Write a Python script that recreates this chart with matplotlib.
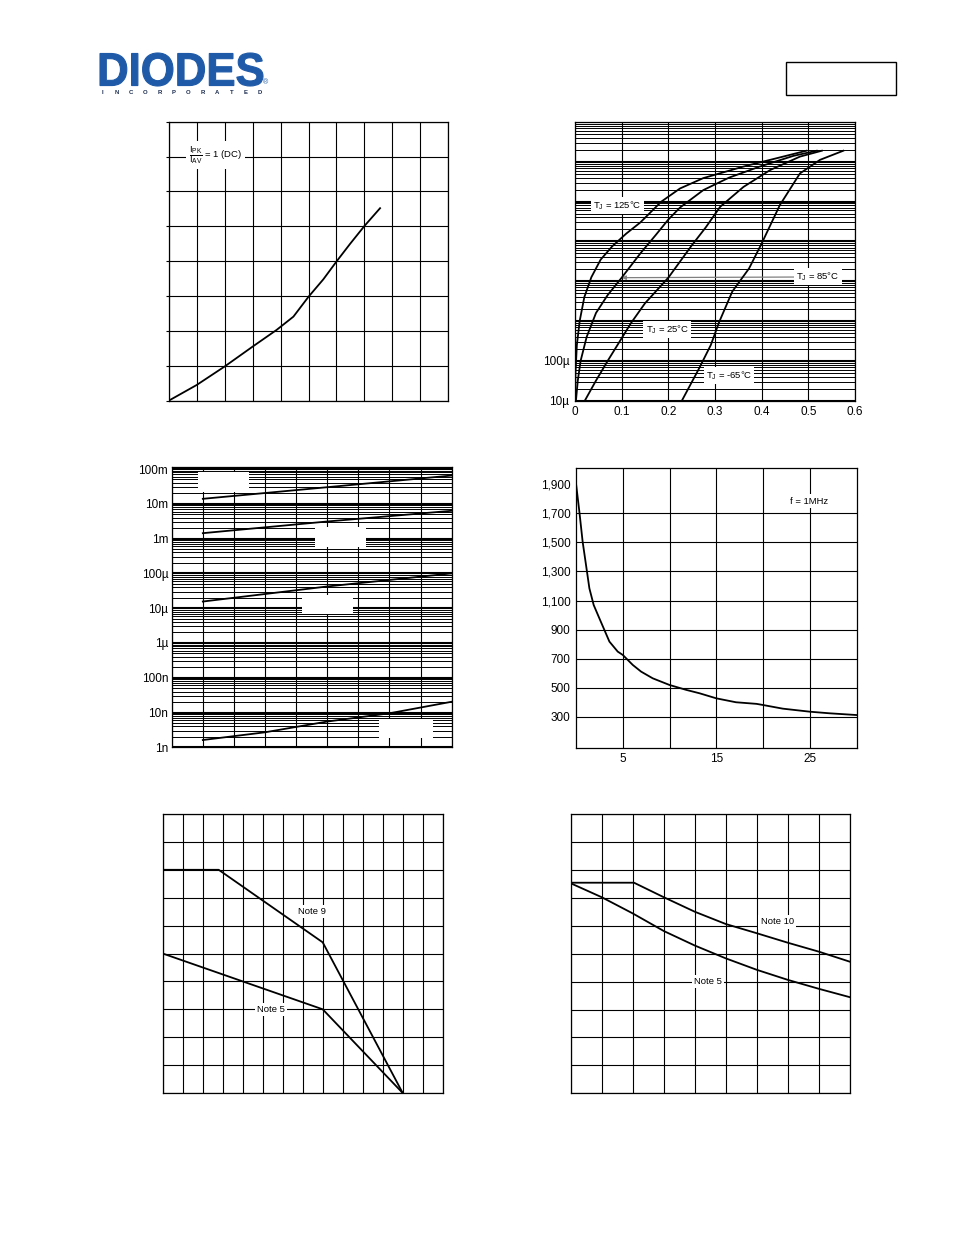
import numpy as np
import matplotlib
matplotlib.use('Agg')
import matplotlib.pyplot as plt
from matplotlib.ticker import LogLocator, FuncFormatter, NullFormatter, MultipleLocator, FixedLocator
from matplotlib.patches import Rectangle, PathPatch
from matplotlib.textpath import TextPath
from matplotlib.path import Path
from matplotlib.font_manager import FontProperties

plt.rcParams['font.family'] = ['Liberation Sans', 'DejaVu Sans']
plt.rcParams['mathtext.fontset'] = 'custom'
plt.rcParams['mathtext.rm'] = 'Liberation Sans'
plt.rcParams['mathtext.it'] = 'Liberation Sans:italic'
plt.rcParams['mathtext.bf'] = 'Liberation Sans:bold'

# ---------------- data ----------------
# Chart 1: power dissipation vs average current (unlabelled axes)
pd_x = [0, 1, 2, 3, 3.86, 4.46, 5, 5.53, 6, 6.48, 7, 7.56]
pd_y = [0, 0.45, 0.98, 1.55, 2.03, 2.41, 2.98, 3.48, 3.99, 4.49, 5.01, 5.52]

# Chart 2: forward characteristics (V, A)
t125_v = [0, 0.001, 0.004, 0.01, 0.02, 0.035, 0.055, 0.08, 0.11, 0.14, 0.185, 0.225, 0.275, 0.361, 0.432, 0.496]
t125_i = [1.0e-5, 5.0e-5, 2.5e-4, 1.0e-3, 4.0e-3, 1.26e-2, 3.5e-2, 7.6e-2, 0.158, 0.30, 1.0, 2.14, 3.9, 7.6, 12.3, 19.0]
t85_v = [0.002, 0.006, 0.012, 0.025, 0.045, 0.07, 0.1, 0.14, 0.173, 0.2, 0.225, 0.275, 0.33, 0.396, 0.468, 0.518]
t85_i = [1.0e-5, 3.2e-5, 1.0e-4, 4.0e-4, 1.6e-3, 4.5e-3, 1.23e-2, 5.0e-2, 0.145, 0.355, 0.71, 1.95, 4.0, 7.6, 14.1, 19.0]
t25_v = [0.021, 0.045, 0.07, 0.091, 0.12, 0.15, 0.2, 0.25, 0.28, 0.311, 0.361, 0.418, 0.482, 0.529]
t25_i = [1.0e-5, 3.2e-5, 1.0e-4, 2.5e-4, 8.9e-4, 2.8e-3, 1.23e-2, 7.9e-2, 0.224, 0.74, 2.34, 6.2, 13.5, 19.0]
tm65_v = [0.229, 0.266, 0.291, 0.309, 0.337, 0.373, 0.4, 0.439, 0.482, 0.525, 0.575]
tm65_i = [1.0e-5, 6.5e-5, 2.5e-4, 9.5e-4, 5.5e-3, 2.1e-2, 8.9e-2, 0.82, 5.1, 11.2, 19.0]
fwd_xticks = [0, 0.1, 0.2, 0.3, 0.4, 0.5, 0.6]
fwd_xlabels = ['0', '0.1', '0.2', '0.3', '0.4', '0.5', '0.6']
fwd_ylabels = {-5: '10\u00b5', -4: '100\u00b5'}

# Chart 3: reverse leakage (4 curves)
leak_x = [5, 25, 45]
leak1 = [1.39e-2, 3.0e-2, 6.5e-2]
leak2 = [1.43e-3, 3.1e-3, 6.3e-3]
leak3 = [1.55e-5, 4.2e-5, 1.0e-4]
leak4_x = [5, 15, 25, 35, 45]
leak4 = [1.62e-9, 2.7e-9, 5.5e-9, 9.5e-9, 2.04e-8]
leak_ylabels = {-9: '1n', -8: '10n', -7: '100n', -6: '1\u00b5', -5: '10\u00b5',
                -4: '100\u00b5', -3: '1m', -2: '10m', -1: '100m'}

# Chart 4: capacitance vs reverse voltage
cap_v = [0, 0.36, 0.71, 1.07, 1.43, 1.89, 2.5, 3.57, 4.46, 5, 6.07, 6.96, 8.2, 10,
         11.8, 13.2, 15, 17.1, 19.3, 20, 22.1, 25, 27.1, 30]
cap_pf = [1907, 1712, 1505, 1345, 1184, 1069, 977, 817, 748, 725, 656, 610, 564, 518,
          484, 461, 426, 399, 388, 380, 355, 334, 323, 311]
cap_yticks = [300, 500, 700, 900, 1100, 1300, 1500, 1700, 1900]
cap_ylabels = ['300', '500', '700', '900', '1,100', '1,300', '1,500', '1,700', '1,900']
cap_xticks = [5, 10, 15, 20, 25]
cap_xlabels = ['5', '', '15', '', '25']

# Chart 5: derating
n9_x = [0, 28, 80, 120]
n9_y = [80, 80, 54, 0]
n5_x = [0, 80, 120]
n5_y = [50, 30, 0]

# Chart 6: derating
n10_x = [0, 20.4, 30, 40, 50, 60, 70, 80, 90]
n10_y = [75.4, 75.4, 70.2, 65.0, 60.6, 57.3, 53.9, 50.7, 47.1]
n5b_x = [0, 10, 20, 30, 40, 50, 60, 70, 80, 90]
n5b_y = [75.2, 70.2, 64.4, 58.1, 52.9, 48.3, 44.2, 40.6, 37.4, 34.4]

# ---------------- figure ----------------
W, H = 954, 1235
fig = plt.figure(figsize=(W / 100, H / 100), dpi=100)
fig.patch.set_facecolor('white')


def add_ax(left, top, right, bottom):
    ax = fig.add_axes([left / W, 1 - bottom / H, (right - left) / W, (bottom - top) / H])
    for s in ax.spines.values():
        s.set_linewidth(0.9)
        s.set_color('black')
    ax.tick_params(which='both', length=0, labelsize=8.5, colors='black')
    return ax


GRID = dict(color='black', linewidth=0.8)
CURVE = dict(color='black', linewidth=1.3, zorder=2.5)
LBL = dict(fontsize=6.8, ha='center', va='center', zorder=1.9,
           bbox=dict(facecolor='white', edgecolor='none', pad=1.6))

# Chart 1
ax1 = add_ax(168.7, 121.7, 448.3, 400.7)
ax1.set_xlim(0, 10)
ax1.set_ylim(0, 8)
ax1.xaxis.set_major_locator(MultipleLocator(1))
ax1.yaxis.set_major_locator(MultipleLocator(1))
ax1.set_xticklabels([])
ax1.set_yticklabels([])
ax1.tick_params(axis='y', left=True, length=2.5, width=0.8, direction='out')
ax1.grid(True, **GRID)
ax1.plot(pd_x, pd_y, **CURVE)
ax1.text(0.167, 0.881, r'$\dfrac{\mathregular{I_{PK}}}{\mathregular{I_{AV}}}$ = 1 (DC)', transform=ax1.transAxes,
         **{**LBL, 'bbox': dict(facecolor='white', edgecolor='none', pad=2.0)})

# Chart 2
ax2 = add_ax(575, 122, 855, 400.7)
ax2.set_yscale('log')
ax2.set_xlim(0, 0.6)
ax2.set_ylim(1e-5, 1e2)
ax2.xaxis.set_major_locator(FixedLocator(fwd_xticks))
ax2.set_xticklabels(fwd_xlabels)
ax2.yaxis.set_major_locator(LogLocator(base=10, numticks=20))
ax2.yaxis.set_minor_locator(LogLocator(base=10, subs=np.arange(2, 10), numticks=200))
ax2.yaxis.set_major_formatter(FuncFormatter(lambda v, p: fwd_ylabels.get(int(round(np.log10(v))), '')))
ax2.yaxis.set_minor_formatter(NullFormatter())
ax2.tick_params(axis='x', pad=4)
ax2.tick_params(axis='y', pad=4)
ax2.grid(True, which='major', axis='y', color='black', linewidth=1.5)
ax2.grid(True, which='minor', axis='y', color='black', linewidth=0.7)
ax2.grid(True, which='major', axis='x', **GRID)
ax2.plot(t125_v, t125_i, **CURVE)
ax2.plot(t85_v, t85_i, **CURVE)
ax2.plot(t25_v, t25_i, **CURVE)
ax2.plot(tm65_v, tm65_i, **CURVE)
ax2.text(0.152, 0.699, r'T$_\mathregular{J}$ = 125°C', transform=ax2.transAxes, **LBL)
ax2.text(0.329, 0.254, r'T$_\mathregular{J}$ = 25°C', transform=ax2.transAxes, **LBL)
ax2.text(0.55, 0.089, r'T$_\mathregular{J}$ = -65°C', transform=ax2.transAxes, **LBL)
ax2.annotate(r'T$_\mathregular{J}$ = 85°C', xy=(t85_v[6], t85_i[6]), xycoords='data',
             xytext=(0.868, 0.444), textcoords='axes fraction',
             arrowprops=dict(arrowstyle='-|>', color='#808080', lw=0.9, mutation_scale=6,
                             shrinkA=0, shrinkB=0),
             **LBL)

# Chart 3
ax3 = add_ax(171.7, 467.3, 451.7, 747.3)
ax3.set_yscale('log')
ax3.set_xlim(0, 45)
ax3.set_ylim(1e-9, 0.112)
ax3.xaxis.set_major_locator(MultipleLocator(5))
ax3.set_xticklabels([])
ax3.yaxis.set_major_locator(LogLocator(base=10, numticks=20))
ax3.yaxis.set_minor_locator(LogLocator(base=10, subs=np.arange(2, 10), numticks=200))
ax3.yaxis.set_major_formatter(FuncFormatter(lambda v, p: leak_ylabels.get(int(round(np.log10(v))), '')))
ax3.yaxis.set_minor_formatter(NullFormatter())
ax3.tick_params(axis='y', pad=2.5)
ax3.grid(True, which='major', axis='y', color='black', linewidth=1.5)
ax3.grid(True, which='minor', axis='y', color='black', linewidth=0.7)
ax3.grid(True, which='major', axis='x', **GRID)
for rect in [(0.094, 0.912, 0.182, 0.071), (0.512, 0.715, 0.182, 0.072),
             (0.465, 0.476, 0.183, 0.068), (0.740, 0.033, 0.193, 0.068)]:
    ax3.add_patch(Rectangle(rect[:2], rect[2], rect[3], transform=ax3.transAxes,
                            facecolor='white', edgecolor='none', zorder=1.8))
ax3.plot(leak_x, leak1, **CURVE)
ax3.plot(leak_x, leak2, **CURVE)
ax3.plot(leak_x, leak3, **CURVE)
ax3.plot(leak4_x, leak4, **CURVE)

# Chart 4
ax4 = add_ax(576, 467.7, 856.7, 747.7)
ax4.set_xlim(0, 30)
ax4.set_ylim(86, 2015)
ax4.xaxis.set_major_locator(FixedLocator(cap_xticks))
ax4.set_xticklabels(cap_xlabels)
ax4.yaxis.set_major_locator(FixedLocator(cap_yticks))
ax4.set_yticklabels(cap_ylabels)
ax4.tick_params(axis='x', pad=4)
ax4.tick_params(axis='y', pad=4)
ax4.grid(True, **GRID)
ax4.yaxis.get_gridlines()[-1].set_visible(False)
ax4.plot(cap_v, cap_pf, **CURVE)
ax4.text(0.830, 0.881, 'f = 1MHz', transform=ax4.transAxes, **LBL)

# Chart 5
ax5 = add_ax(162.7, 814, 442.7, 1093)
ax5.set_xlim(0, 140)
ax5.set_ylim(0, 100)
ax5.xaxis.set_major_locator(MultipleLocator(10))
ax5.yaxis.set_major_locator(MultipleLocator(10))
ax5.set_xticklabels([])
ax5.set_yticklabels([])
ax5.grid(True, **GRID)
ax5.plot(n9_x, n9_y, **CURVE)
ax5.plot(n5_x, n5_y, **CURVE)
ax5.text(0.532, 0.650, 'Note 9', transform=ax5.transAxes, **LBL)
ax5.text(0.386, 0.300, 'Note 5', transform=ax5.transAxes, **LBL)

# Chart 6
ax6 = add_ax(570.7, 814, 850, 1093.3)
ax6.set_xlim(0, 90)
ax6.set_ylim(0, 100)
ax6.xaxis.set_major_locator(MultipleLocator(10))
ax6.yaxis.set_major_locator(MultipleLocator(10))
ax6.set_xticklabels([])
ax6.set_yticklabels([])
ax6.grid(True, **GRID)
ax6.plot(n10_x, n10_y, **CURVE)
ax6.plot(n5b_x, n5b_y, **CURVE)
ax6.text(0.739, 0.614, 'Note 10', transform=ax6.transAxes, **LBL)
ax6.text(0.492, 0.400, 'Note 5', transform=ax6.transAxes, **LBL)

# ---------------- header ----------------
LOGO_BLUE = '#1f5aa8'
tp = TextPath((0, 0), 'DIODES', size=1, prop=FontProperties(family='Liberation Sans', weight='bold'))
ext = tp.get_extents()
verts = tp.vertices.copy()
x0, x1, y0, y1 = 100, 263, 86, 53  # pixel box (left, right, baseline, top)
verts[:, 0] = (x0 + (verts[:, 0] - ext.x0) / ext.width * (x1 - x0)) / W
verts[:, 1] = 1 - (y0 - (verts[:, 1] - ext.y0) / ext.height * (y0 - y1)) / H
fig.add_artist(PathPatch(Path(verts, tp.codes), transform=fig.transFigure,
                         facecolor=LOGO_BLUE, edgecolor=LOGO_BLUE, linewidth=0.8))
for k, ch in enumerate('INCORPORATED'):
    fig.text((102 + k * (158 / 11)) / W, 1 - 92 / H, ch, fontsize=4.3, fontweight='bold',
             color='#1c2c50', ha='center', va='center')
fig.text(266 / W, 1 - 83 / H, '\u00ae', fontsize=5, color=LOGO_BLUE, ha='center', va='center')
fig.add_artist(Rectangle((786 / W, 1 - 95 / H), 110 / W, 33 / H, transform=fig.transFigure,
                         fill=False, edgecolor='black', linewidth=1.0))

fig.savefig('out.png', dpi=100, facecolor='white')
